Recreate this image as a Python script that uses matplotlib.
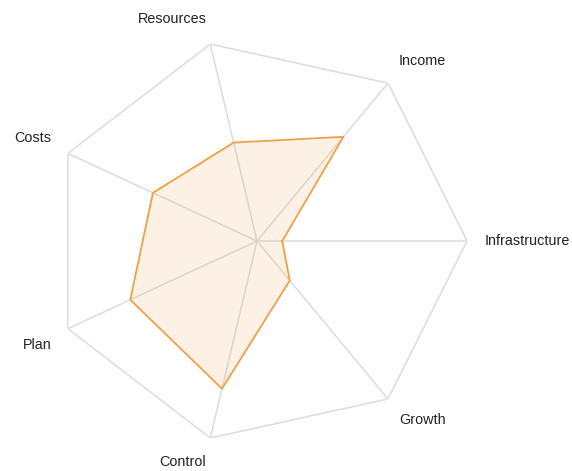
import numpy as np
import matplotlib
matplotlib.use("Agg")
import matplotlib.pyplot as plt

categories = ["Infrastructure", "Income", "Resources", "Costs", "Plan", "Control", "Growth"]
values = [12, 66, 50, 55, 67, 75, 25]
max_value = 100

# label layout (pixel offsets from each outer vertex, alignment)
label_offsets = [(18, 0), (11, 22), (-4, 25), (-17, 15), (-16, -16), (-4, -24), (11, -21)]
label_ha = ["left", "left", "right", "right", "right", "right", "left"]

fig = plt.figure(figsize=(5.72, 4.71), dpi=100)
ax = fig.add_axes([0.0822, 0.0594, 0.7343, 0.8577], projection="polar")
ax.set_aspect("auto")

n = len(categories)
theta = np.arange(n) * 2 * np.pi / n
theta_closed = np.append(theta, theta[0])

grid_color = "#dcdcdc"
# outer polygon
ax.plot(theta_closed, np.full(n + 1, max_value), color=grid_color, lw=1.1, zorder=1)
# spokes
for t in theta:
    ax.plot([t, t], [0, max_value], color=grid_color, lw=1.1, zorder=1)

vals_closed = np.append(values, values[0])
ax.fill(theta_closed, vals_closed, color="#f5a04a", alpha=0.14, lw=0, zorder=2)
ax.plot(theta_closed, vals_closed, color="#f0a048", lw=1.3, zorder=3)

for t, lab, off, ha in zip(theta, categories, label_offsets, label_ha):
    ax.annotate(lab, xy=(t, max_value), xytext=off, textcoords="offset pixels",
                ha=ha, va="center", fontsize=10.4, family="Liberation Sans",
                color="#222222", annotation_clip=False)

ax.set_ylim(0, max_value)
ax.set_xticks([])
ax.set_yticks([])
ax.grid(False)
ax.spines["polar"].set_visible(False)
ax.patch.set_visible(False)

fig.savefig("out.png", dpi=100)
